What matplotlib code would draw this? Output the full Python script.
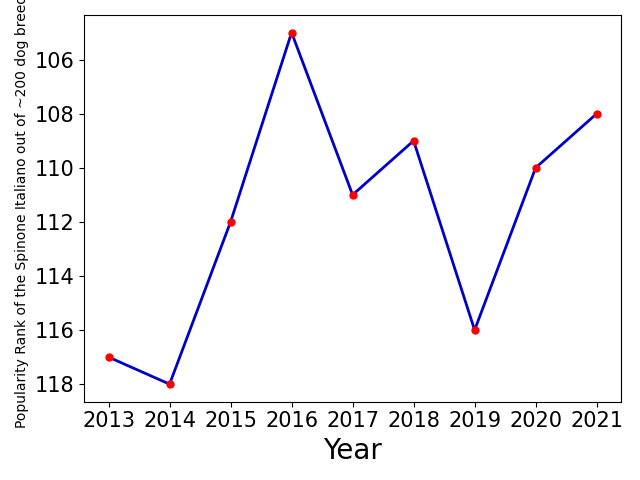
import matplotlib
matplotlib.use("Agg")
from matplotlib import pyplot as plt

years = [2013, 2014, 2015, 2016, 2017, 2018, 2019, 2020, 2021]
ranks = [117, 118, 112, 105, 111, 109, 116, 110, 108]

fig, ax = plt.subplots(figsize=(6.4, 4.8), dpi=100)
ax.plot(years, ranks, color='#0000cc', linewidth=2, marker='o',
        markersize=5, markerfacecolor='red', markeredgecolor='red')
ax.invert_yaxis()
ax.set_xticks(years)
ax.tick_params(labelsize=15)
ax.set_xlabel('Year', fontsize=20)
ax.set_ylabel('Popularity Rank of the Spinone Italiano out of ~200 dog breeds', fontsize=10)
plt.tight_layout()
plt.savefig('out.png')
